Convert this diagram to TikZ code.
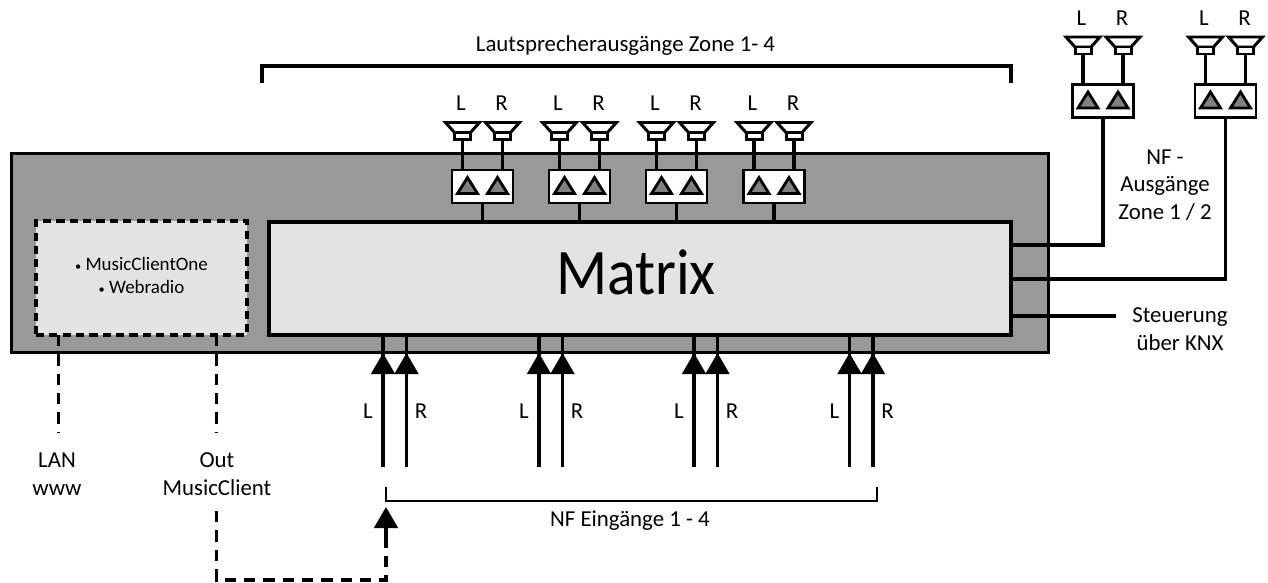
\documentclass[tikz,border=0pt]{standalone}
\usepackage{fontspec}
\setmainfont{Carlito}
\usepackage{xcolor}
\usetikzlibrary{arrows.meta,positioning}
\definecolor{rackgray}{RGB}{153,153,153}
\definecolor{matrixgray}{RGB}{227,227,227}
\definecolor{ampgray}{RGB}{128,128,128}

\begin{document}
\begin{tikzpicture}[
    x=0.02cm, y=-0.02cm,
    font=\fontsize{13}{15.6}\selectfont,
    panel/.style={rectangle, draw, line width=1.8pt, inner sep=0pt, outer sep=0pt},
    rackbox/.style={panel, line width=1.7pt, fill=rackgray, minimum width=20.76cm, minimum height=3.99cm},
    matrixbox/.style={panel, fill=matrixgray, minimum width=14.84cm, minimum height=2.26cm},
    clientbox/.style={panel, fill=matrixgray, dash pattern=on 4.6pt off 3pt, minimum width=4.22cm, minimum height=2.28cm},
    ampbox/.style={panel, line width=1.6pt, fill=white, minimum width=1.22cm, minimum height=0.66cm},
    wire/.style={line width=1.8pt},
    dashline/.style={line width=1.8pt, dash pattern=on 6.4pt off 4.6pt},
    bracket/.style={line width=1.8pt},
    nfarrow/.style={line width=1.8pt, -{Triangle[length=0.42cm, width=0.47cm]}},
    label/.style={align=center, inner sep=0pt},
    ampset/.pic={
        \node[ampbox] (-amp) at (0,0) {};
        \draw[line width=1.6pt, fill=ampgray] (-25,7) -- (-15,-9) -- (-5,7) -- cycle;
        \draw[line width=1.6pt, fill=ampgray] (5,7) -- (15,-9) -- (25,7) -- cycle;
        \coordinate (-spkl) at (-20,-48);
        \coordinate (-spkr) at (20,-48);
        \draw[wire] (-spkl) -- (-spkl |- -amp.north);
        \draw[wire] (-spkr) -- (-spkr |- -amp.north);
        \draw[line width=1.7pt, fill=white] (-37,-64) -- (-3,-64) -- (-12,-54) -- (-28,-54) -- cycle;
        \draw[line width=1.7pt, fill=white] (-28,-54) rectangle (-12,-47);
        \draw[line width=1.7pt, fill=white] (3,-64) -- (37,-64) -- (28,-54) -- (12,-54) -- cycle;
        \draw[line width=1.7pt, fill=white] (12,-54) rectangle (28,-47);
        \node[label] (-lname) at (-21.5,-83) {L};
        \node[label] (-rname) at (19,-83) {R};
    },
    nfpair/.pic={
        \coordinate (-l) at (0,0);
        \coordinate (-r) at (23.5,0);
        \draw[nfarrow] (-l) -- +(0,-114);
        \draw[nfarrow] (-r) -- +(0,-114);
        \node[label] (-lname) at (-15,-56) {L};
        \node[label] (-rname) at (38,-56) {R};
    }
]
\useasboundingbox (0,0) rectangle (1268,582);

\node[rackbox] (rack) at (530,252.75) {};
\node[matrixbox] (matrix) at (640,278.5) {};
\node[label, font=\fontsize{37}{37}\addfontfeature{FakeStretch=0.92}] (matrixname) at (636,272.5) {Matrix};
\node[clientbox] (client) at (141.5,278) {};
\node[label, font=\fontsize{10.8}{13}\selectfont] (clientname) at (141.5,275.5) {{\scriptsize\textbullet}\ MusicClientOne\\{\scriptsize\textbullet}\ Webradio};

\pic (zoneA) at (482.5,186.5) {ampset};
\pic (zoneB) at (579.5,186.5) {ampset};
\pic (zoneC) at (676.5,186.5) {ampset};
\pic (zoneD) at (774,186.5) {ampset};
\pic (outA) at (1103,101) {ampset};
\pic (outB) at (1225.5,101) {ampset};

\draw[wire] (zoneA-amp.south) -- (zoneA-amp.south |- matrix.north);
\draw[wire] (zoneB-amp.south) -- (zoneB-amp.south |- matrix.north);
\draw[wire] (zoneC-amp.south) -- (zoneC-amp.south |- matrix.north);
\draw[wire] (zoneD-amp.south) -- (zoneD-amp.south |- matrix.north);

\coordinate (outAstart) at (1011,245);
\coordinate (outBstart) at (1011,279);
\coordinate (knxend) at (1116,316);
\coordinate (knxstart) at (1011,316);
\draw[wire] (outAstart) -| (outA-amp.south);
\draw[wire] (outBstart) -| (outB-amp.south);
\draw[wire] (knxstart) -- (knxend);

\pic (inA) at (383,467) {nfpair};
\pic (inB) at (539,467) {nfpair};
\pic (inC) at (694,467) {nfpair};
\pic (inD) at (849.5,467) {nfpair};
\draw[wire] (inA-l) -- (inA-l |- matrix.south);
\draw[wire] (inA-r) -- (inA-r |- matrix.south);
\draw[wire] (inB-l) -- (inB-l |- matrix.south);
\draw[wire] (inB-r) -- (inB-r |- matrix.south);
\draw[wire] (inC-l) -- (inC-l |- matrix.south);
\draw[wire] (inC-r) -- (inC-r |- matrix.south);
\draw[wire] (inD-l) -- (inD-l |- matrix.south);
\draw[wire] (inD-r) -- (inD-r |- matrix.south);

\node[label] (zonetitle) at (625.5,46) {Lautsprecherausgänge Zone 1- 4};
\draw[bracket] (262,83) |- (1011,66) -- (1011,83);

\node[label] (nfout) at (1165,185) {NF -\\Ausgänge\\Zone 1 / 2};
\node[label] (knx) at (1180,329) {Steuerung\\über KNX};
\node[label] (lan) at (57,474) {LAN\\www};
\node[label] (music) at (217,474) {Out\\MusicClient};
\node[label] (nfin) at (630,521) {NF Eingänge 1 - 4};
\draw[bracket, line width=1.5pt] (386,487) |- (877,501) -- (877,487);

\coordinate (lanend) at (58.5,433);
\coordinate (musicend) at (216.5,433);
\coordinate (musicback) at (216.5,511);
\coordinate (feedin) at (386,580);
\draw[dashline] (lanend |- client.south) -- (lanend);
\draw[dashline] (musicend |- client.south) -- (musicend);
\draw[dashline] (musicback) |- (feedin) -- (386,538);
\draw[nfarrow] (386,538) -- (386,507);
\end{tikzpicture}
\end{document}
